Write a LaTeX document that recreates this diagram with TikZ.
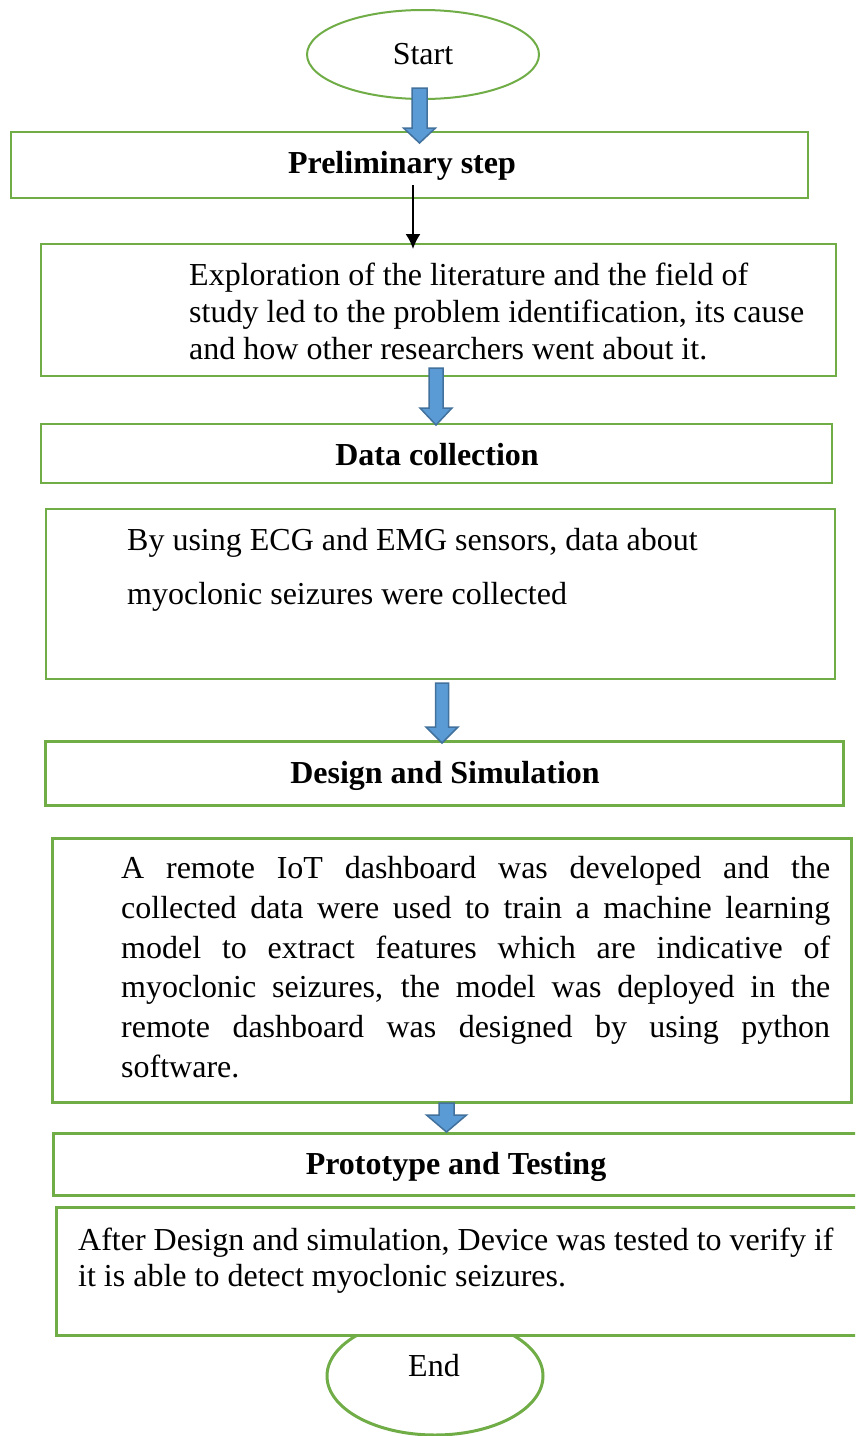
\documentclass[tikz,border=0pt]{standalone}
\usepackage{fontspec}
\setmainfont{Liberation Serif}
\usetikzlibrary{arrows.meta,calc,shapes.geometric}
\definecolor{gr}{HTML}{70AD47}
\definecolor{bfill}{HTML}{5B9BD5}
\definecolor{bline}{HTML}{41719C}
\tikzset{
  box/.style={draw=gr, line width=2pt, fill=white, rectangle, inner sep=0pt},
  thickbox/.style={box, line width=3pt},
  oval/.style={draw=gr, line width=2pt, fill=white, ellipse, inner sep=0pt},
  body/.style={font=\fontsize{32}{37}\selectfont, inner sep=0pt, anchor=base west},
  title/.style={font=\fontsize{32}{37}\selectfont\bfseries, inner sep=0pt, anchor=base},
  ovaltext/.style={font=\fontsize{32}{37}\selectfont, inner sep=0pt, anchor=base},
  blk/.style={fill=bfill, draw=bline, line width=1.5pt, line join=miter},
  thinarrow/.style={-{Latex[length=15pt,width=15pt]}, line width=1.7pt, black},
}
\newcommand\blockarrow[5]{%
  \draw[blk] ($(#1)+(-#3,0)$) -- ($(#1)+(#3,0)$) -- ($(#2)+(#3,-#5)$) -- ($(#2)+(#4,-#5)$)
    -- (#2) -- ($(#2)+(-#4,-#5)$) -- ($(#2)+(-#3,-#5)$) -- cycle;}
\begin{document}
\begin{tikzpicture}[x=1pt,y=-1pt]
\useasboundingbox (0,0) rectangle (855,1436);
\clip (0,0) rectangle (855,1436);
\fill[white] (0,0) rectangle (855,1436);

% start / end
\node[oval, minimum width=232pt, minimum height=89pt] (start) at (423,54.5) {};
\node[ovaltext] (starttxt) at (423,64) {Start};
\node[oval, line width=3pt, minimum width=216pt, minimum height=118pt] (end) at (435,1376) {};

% boxes
\node[box, minimum width=797pt, minimum height=66pt] (b1) at (409.5,165) {};
\node[box, minimum width=795pt, minimum height=132pt] (b2) at (438.5,310) {};
\node[box, minimum width=791pt, minimum height=59pt] (b3) at (436.5,453.5) {};
\node[box, minimum width=789pt, minimum height=170pt] (b4) at (440.5,594) {};
\node[thickbox, minimum width=798pt, minimum height=64pt] (b5) at (444,773) {};
\node[thickbox, minimum width=799pt, minimum height=264pt] (b6) at (451.5,970) {};
\node[thickbox, minimum width=817pt, minimum height=62pt] (b7) at (461.5,1164) {};
\node[thickbox, minimum width=814pt, minimum height=128pt] (b8) at (463,1271) {};
\node[ovaltext] (endtxt) at (434,1376) {End};

% titles
\node[title] (t1) at (402,173) {Preliminary step};
\node[title] (t3) at (437,465) {Data collection};
\node[title] (t5) at (445,783) {Design and Simulation};
\node[title] (t7) at (456,1174) {Prototype and Testing};

% box 2 text
\node[body] (t2a) at (189,285) {Exploration of the literature and the field of};
\node[body] (t2b) at (189,322) {study led to the problem identification, its cause};
\node[body] (t2c) at (189,359) {and how other researchers went about it.};

% box 4 text
\node[body] (t4a) at (127,550) {By using ECG and EMG sensors, data about};
\node[body] (t4b) at (127,604) {myoclonic seizures were collected};

% box 6 text (justified)
\node[body] (t6a) at (121,878) {\makebox[709pt][s]{A remote IoT dashboard was developed and the}};
\node[body] (t6b) at (121,918) {\makebox[709pt][s]{collected data were used to train a machine learning}};
\node[body] (t6c) at (121,958) {\makebox[709pt][s]{model to extract features which are indicative of}};
\node[body] (t6d) at (121,997) {\makebox[709pt][s]{myoclonic seizures, the model was deployed in the}};
\node[body] (t6e) at (121,1037) {\makebox[709pt][s]{remote dashboard was designed by using python}};
\node[body] (t6f) at (121,1077) {software.};

% box 8 text
\node[body] (t8a) at (78,1250) {After Design and simulation, Device was tested to verify if};
\node[body] (t8b) at (78,1286) {it is able to detect myoclonic seizures.};

% connectors
\coordinate (a1s) at (419.5,88);  \coordinate (a1e) at (419.5,143);
\coordinate (a2s) at (436,368);   \coordinate (a2e) at (436,425);
\coordinate (a3s) at (442,683);   \coordinate (a3e) at (442,743);
\coordinate (a4s) at (446.5,1103); \coordinate (a4e) at (446.5,1132);
\blockarrow{a1s}{a1e}{7.5}{16}{15}
\blockarrow{a2s}{a2e}{7}{16}{17}
\blockarrow{a3s}{a3e}{6.5}{16}{16}
\blockarrow{a4s}{a4e}{7.5}{20}{17}

\coordinate (ts) at (413,185);
\draw[thinarrow] (ts) -- ($(ts |- b2.north)+(0,6)$);
\end{tikzpicture}
\end{document}
